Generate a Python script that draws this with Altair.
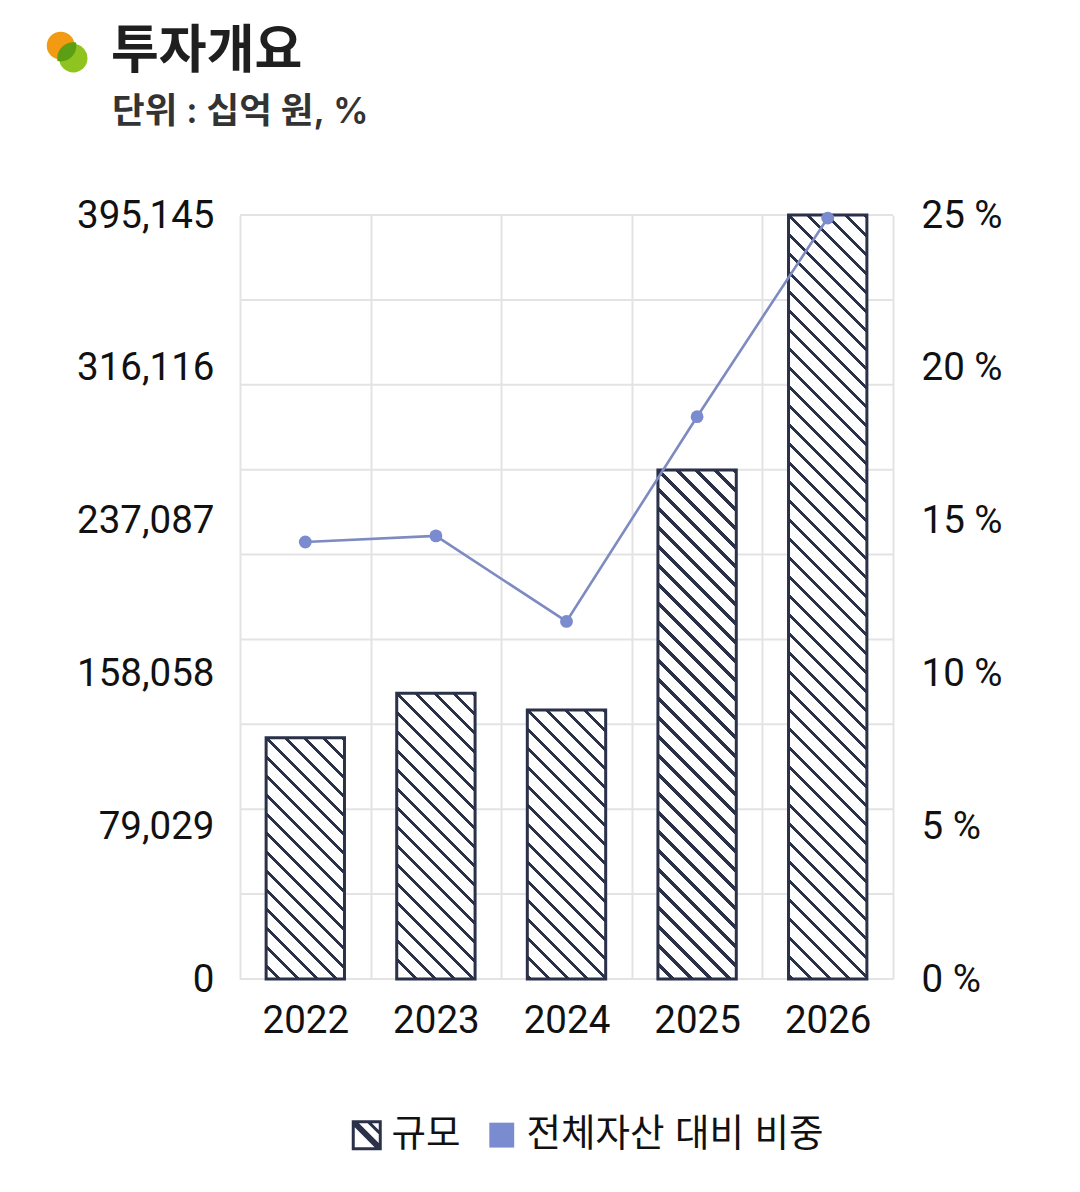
import math
import altair as alt
import pandas as pd

# ---------------- data ----------------
years = ["2022", "2023", "2024", "2025", "2026"]
scale_vals = [124800, 147800, 139100, 263300, 395145]   # 규모 (십억 원)
share_vals = [14.3, 14.5, 11.7, 18.4, 24.9]              # 전체자산 대비 비중 (%)
left_ticks = [0, 79029, 158058, 237087, 316116, 395145]
right_ticks = [0, 5, 10, 15, 20, 25]
series_names = ["규모", "전체자산 대비 비중"]
title_text = "투자개요"
subtitle_text = "단위 : 십억 원, %"

LEFT_MAX = 395145
RIGHT_MAX = 25
GRID_DIVS = 9

# ---------------- style ----------------
PLOT_W, PLOT_H = 653, 764
BAR_FRAC = 0.6
NAVY = "#2b3149"
BLUE = "#7b8bcf"
LINE = "#7d8bc2"
GRID = "#e3e3e3"
FONT = "Inter, 'Noto Sans CJK KR'"
NFONT = "Roboto"
KFONT = "Noto Sans CJK KR"
LBL = 38.5

grid_vals = [LEFT_MAX * k / GRID_DIVS for k in range(GRID_DIVS + 1)]

df = pd.DataFrame({"year": years, "scale": scale_vals, "share": share_vals})


def hatch(value, period=19.0, thick=4.2):
    """Diagonal hatch as a linear gradient in bounding-box units."""
    w = PLOT_W / len(years) * BAR_FRAC
    h = value / LEFT_MAX * PLOT_H
    L = w + h
    s = (w + h) / (w * w + h * h)
    d = thick / 2.0 / L
    stops = [{"offset": 0, "color": "white"}]
    kmin = math.floor((-h - thick) / period)
    kmax = math.ceil((w + thick) / period)
    for k in range(kmin, kmax + 1):
        t = (k * period + h) / L
        a, b = max(0.0, t - d), min(1.0, t + d)
        if b <= 0 or a >= 1:
            continue
        a, b = round(a, 6), round(b, 6)
        stops += [
            {"offset": a, "color": "white"},
            {"offset": a, "color": NAVY},
            {"offset": b, "color": NAVY},
            {"offset": b, "color": "white"},
        ]
    stops.append({"offset": 1, "color": "white"})
    return {"gradient": "linear", "x1": 0, "y1": 1,
            "x2": round(s * w, 6), "y2": round(1 - s * h, 6), "stops": stops}


def x_enc():
    return alt.X("year:N", title=None, sort=years,
                 scale=alt.Scale(paddingInner=0, paddingOuter=0),
                 axis=alt.Axis(grid=True, gridColor=GRID, gridWidth=2,
                               tickBand="extent", ticks=False, domain=False,
                               labelAngle=0, labelPadding=23, labelFontSize=LBL,
                               labelColor="#111", labelFont=NFONT))


yl_scale = alt.Scale(domain=[0, LEFT_MAX], nice=False, zero=True)


def yl_axis():
    return alt.Axis(values=left_ticks, labelExpr="format(datum.value, ',')",
                    grid=False, ticks=False,
                    domain=False, labelPadding=26, labelFontSize=LBL,
                    labelColor="#111", labelFont=NFONT, labelFlush=False,
                    labelOverlap=False, title=None)


def yr_axis():
    return alt.Axis(orient="right", values=right_ticks,
                    labelExpr="datum.value + ' %'", grid=False, ticks=False,
                    domain=False, labelPadding=28, labelFontSize=LBL,
                    labelColor="#111", labelFont=NFONT, labelFlush=False,
                    labelOverlap=False, title=None)


grid_rules = alt.Chart(pd.DataFrame({"g": grid_vals})).mark_rule(
    color=GRID, strokeWidth=2
).encode(y=alt.Y("g:Q", scale=yl_scale, axis=yl_axis()))

bar_layers = []
for yr, v in zip(years, scale_vals):
    bar_layers.append(
        alt.Chart(df).transform_filter(alt.datum.year == yr).mark_bar(
            fill=hatch(v), stroke=NAVY, strokeWidth=3,
            width=alt.RelativeBandSize(BAR_FRAC)
        ).encode(x=x_enc(), y=alt.Y("scale:Q", scale=yl_scale, axis=yl_axis()))
    )

yr_scale = alt.Scale(domain=[0, RIGHT_MAX], nice=False, zero=True)

line = alt.Chart(df).mark_line(color=LINE, strokeWidth=2.6).encode(
    x=x_enc(), y=alt.Y("share:Q", scale=yr_scale, axis=yr_axis()))
pts = alt.Chart(df).mark_circle(color=BLUE, size=165, opacity=1).encode(
    x=x_enc(), y=alt.Y("share:Q", scale=yr_scale, axis=yr_axis()))

HATCH_PATH = ("M-1,-1H1V1H-1Z M-0.8,-0.8V0.8H0.8V-0.8Z "
              "M-1,-1L-0.72,-1L1,0.72L1,1L0.72,1L-1,-0.72Z "
              "M-0.14,-1L0.14,-1L1,-0.14L1,0.14Z")
SQUARE_PATH = "M-0.83,-0.83H0.83V0.83H-0.83Z"


def legend():
    return alt.Legend(orient="none", legendX=108, legendY=901,
                      direction="horizontal", title=None, symbolSize=900,
                      symbolStrokeWidth=0, labelFontSize=37.5, labelFont=FONT,
                      labelColor="#111", labelLimit=600, labelOffset=6,
                      columnPadding=22)


leg = alt.Chart(pd.DataFrame({"series": series_names})).transform_filter(
    "false"
).mark_point(filled=True, opacity=1).encode(
    color=alt.Color("series:N", scale=alt.Scale(domain=series_names, range=[NAVY, BLUE]),
                    legend=legend()),
    shape=alt.Shape("series:N", scale=alt.Scale(domain=series_names,
                                                range=[HATCH_PATH, SQUARE_PATH]),
                    legend=legend()),
)

# ---------------- header (logo + title) ----------------
one = pd.DataFrame({"k": [0]})
LENS = "M-9.27,9.27A15.7,15.7,0,0,0,9.27,-9.27A16,16,0,0,0,-9.27,9.27Z"
logo1 = alt.Chart(one).mark_circle(color="#f29b12", size=774, opacity=1).encode(
    x=alt.value(60.7 - 240), y=alt.value(45.7 - 215))
logo2 = alt.Chart(one).mark_circle(color="#8fc31f", size=804, opacity=1).encode(
    x=alt.value(73.3 - 240), y=alt.value(58.3 - 215))
logo3 = alt.Chart(one).mark_point(shape=LENS, size=4, filled=True, color="#5c9e14",
                                  opacity=1, strokeWidth=0).encode(
    x=alt.value(66.8 - 240), y=alt.value(51.8 - 215))

title = alt.Chart(one).mark_text(
    text=title_text, align="left", baseline="alphabetic", font=KFONT,
    fontSize=52, fontWeight="bold", color="#1f1f1f"
).encode(x=alt.value(111 - 240), y=alt.value(68 - 215))
subtitle = alt.Chart(one).mark_text(
    text=subtitle_text, align="left", baseline="alphabetic", font=FONT,
    fontSize=35.5, fontWeight=600, color="#333333"
).encode(x=alt.value(112 - 240), y=alt.value(123 - 215))

left = alt.layer(grid_rules, *bar_layers)
right = alt.layer(line, pts, leg, logo1, logo2, logo3, title, subtitle)

chart = alt.layer(left, right).resolve_scale(y="independent").properties(
    width=PLOT_W, height=PLOT_H,
    autosize=alt.AutoSizeParams(type="none"),
    padding={"left": 232, "top": 207, "right": 179, "bottom": 200},
).configure(font=FONT, background="white").configure_view(stroke=None)

chart.save("out.html", embed_options={"renderer": "svg", "actions": False})
